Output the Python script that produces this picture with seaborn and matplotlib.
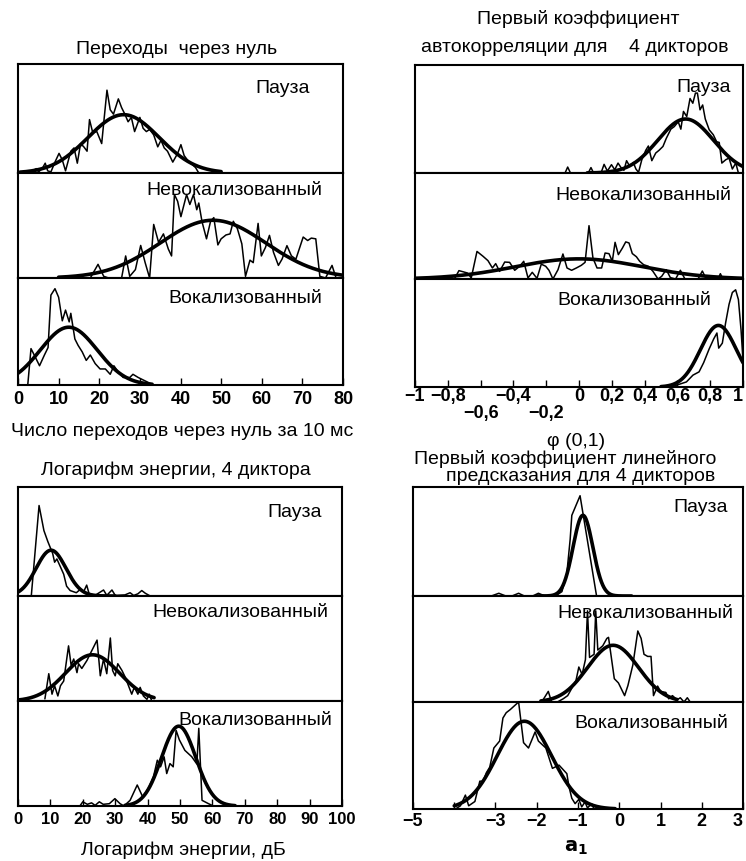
import numpy as np
import matplotlib
matplotlib.use("Agg")
import matplotlib.pyplot as plt
import seaborn as sns

# ---------------- data: histogram traces (relative height in each strip) ----------------
# Zero crossings per 10 ms
zc_pause_x = [0.8, 3.6, 4.5, 5.1, 6.1, 6.7, 7.3, 8.1, 9.1, 10.1, 10.9, 11.7, 13.0, 13.8, 14.6, 15.4,
              16.2, 17.0, 17.6, 18.4, 19.4, 20.6, 21.1, 21.9, 22.7, 23.5, 24.7, 25.5, 26.3, 27.1, 27.9,
              28.7, 30.0, 30.8, 31.6, 32.4, 33.4, 34.4, 35.2, 36.0, 36.8, 38.1, 39.3, 40.1, 40.9, 41.7,
              42.5, 43.7, 44.5]
zc_pause_y = [0.006, 0.02, 0.04, 0.01, 0.05, 0.09, 0.02, 0.01, 0.10, 0.18, 0.12, 0.02, 0.20, 0.23, 0.09,
              0.27, 0.24, 0.20, 0.49, 0.37, 0.38, 0.27, 0.46, 0.76, 0.58, 0.54, 0.68, 0.60, 0.54, 0.47,
              0.51, 0.38, 0.51, 0.41, 0.38, 0.40, 0.35, 0.24, 0.30, 0.23, 0.20, 0.10, 0.18, 0.26, 0.16,
              0.12, 0.09, 0.05, 0.0]
zc_unv_x = [17.8, 19.7, 21.1, 22.3, 25.5, 26.5, 27.5, 28.9, 30.2, 31.3, 32.4, 33.4, 34.6, 35.8, 37.0,
            37.8, 38.5, 39.3, 40.1, 41.5, 42.3, 43.2, 44.0, 44.5, 45.3, 46.4, 47.4, 48.2, 49.2, 50.0,
            51.2, 52.2, 53.0, 54.0, 55.1, 56.0, 57.1, 57.9, 59.1, 59.9, 60.9, 61.9, 62.9, 64.1, 65.0,
            66.2, 67.3, 68.4, 70.2, 71.3, 72.2, 73.3, 74.3, 75.7, 77.3, 78.3]
zc_unv_y = [0, 0.13, 0.016, 0, 0, 0.21, 0.016, 0.08, 0.31, 0.146, 0, 0.51, 0.34, 0.42, 0.276, 0.21,
            0.795, 0.73, 0.584, 0.795, 0.7, 0.795, 0.65, 0.714, 0.536, 0.373, 0.54, 0.575, 0.315,
            0.373, 0.41, 0.42, 0.54, 0.47, 0.325, 0.016, 0.17, 0.146, 0.52, 0.21, 0.29, 0.406, 0.244,
            0.12, 0.18, 0.308, 0.211, 0.179, 0.39, 0.357, 0.38, 0.373, 0.016, 0, 0.12, 0]
zc_voi_x = [2.4, 3.2, 4.0, 5.3, 6.5, 7.4, 8.1, 9.1, 10.0, 10.9, 11.7, 12.6, 13.0, 14.0, 14.8, 15.8,
            16.8, 17.8, 19.0, 20.2, 21.5, 22.7, 23.6, 24.7, 25.9, 27.5, 28.3, 29.6, 31.2, 32.8, 33.6]
zc_voi_y = [0, 0.34, 0.28, 0.18, 0.28, 0.35, 0.84, 0.90, 0.82, 0.60, 0.70, 0.59, 0.67, 0.43, 0.37,
            0.31, 0.23, 0.28, 0.20, 0.15, 0.15, 0.10, 0.18, 0.12, 0.07, 0.07, 0.10, 0.07, 0.04, 0.01, 0]

# First autocorrelation coefficient
ac_pause_x = [-0.085, -0.069, -0.052, 0.056, 0.073, 0.089, 0.137, 0.153, 0.173, 0.198, 0.218, 0.238,
              0.258, 0.274, 0.29, 0.31, 0.331, 0.347, 0.363, 0.383, 0.407, 0.423, 0.444, 0.468, 0.488,
              0.512, 0.532, 0.56, 0.581, 0.605, 0.621, 0.637, 0.657, 0.677, 0.694, 0.71, 0.722, 0.738,
              0.754, 0.77, 0.794, 0.819, 0.839, 0.855, 0.871, 0.895, 0.915, 0.935, 0.956, 0.972]
ac_pause_y = [0, 0.055, 0, 0, 0.05, 0, 0.012, 0.08, 0.018, 0.077, 0.03, 0.092, 0.046, 0.025, 0.114,
              0.06, 0.098, 0.037, 0.006, 0.123, 0.21, 0.25, 0.114, 0.185, 0.21, 0.246, 0.32, 0.406,
              0.43, 0.474, 0.406, 0.57, 0.523, 0.69, 0.646, 0.74, 0.74, 0.585, 0.63, 0.5, 0.4, 0.354,
              0.29, 0.283, 0.092, 0.123, 0.138, 0.037, 0.092, 0]
ac_unv_x = [-0.992, -0.76, -0.732, -0.681, -0.657, -0.622, -0.585, -0.555, -0.528, -0.508, -0.484,
            -0.453, -0.423, -0.392, -0.362, -0.337, -0.311, -0.285, -0.256, -0.23, -0.203, -0.183,
            -0.159, -0.128, -0.098, -0.073, -0.045, -0.016, 0.014, 0.037, 0.061, 0.085, 0.11, 0.138,
            0.159, 0.183, 0.203, 0.22, 0.24, 0.264, 0.285, 0.305, 0.325, 0.35, 0.37, 0.394, 0.423,
            0.451, 0.482, 0.504, 0.532, 0.557, 0.589, 0.618, 0.646, 0.726, 0.752, 0.776, 0.848,
            0.862, 0.878]
ac_unv_y = [0, 0, 0.079, 0.057, 0.01, 0.26, 0.214, 0.173, 0.104, 0.145, 0.072, 0.16, 0.157, 0.082,
            0.12, 0.167, 0.01, 0.063, 0.006, 0.14, 0.12, 0.082, 0, 0.088, 0.236, 0.104, 0.082, 0.104,
            0.129, 0.157, 0.503, 0.198, 0.104, 0.104, 0.245, 0.239, 0.167, 0.346, 0.23, 0.29, 0.35,
            0.34, 0.24, 0.21, 0.167, 0.135, 0.12, 0.072, 0, 0.025, 0.088, 0.013, 0, 0.082, 0, 0,
            0.075, 0, 0, 0.05, 0]
ac_voi_x = [0.52, 0.573, 0.655, 0.695, 0.732, 0.76, 0.793, 0.821, 0.841, 0.852, 0.874, 0.894, 0.915,
            0.935, 0.955, 0.972, 0.988, 1.0]
ac_voi_y = [0, 0.006, 0.047, 0.11, 0.14, 0.225, 0.35, 0.444, 0.5, 0.36, 0.406, 0.594, 0.766, 0.875,
            0.9, 0.81, 0.53, 0.25]

# Log energy, dB
en_pause_x = [4.1, 6.5, 8.0, 9.2, 10.7, 11.3, 12.0, 13.5, 14.1, 15.0, 16.1, 18.0, 19.2, 20.2, 21.2,
              22.0, 24.0, 26.4, 27.4, 29.0, 30.0, 33.0, 34.6, 35.7, 37.0, 38.2, 39.3, 40.8]
en_pause_y = [0, 0.83, 0.6, 0.5, 0.39, 0.31, 0.34, 0.24, 0.2, 0.09, 0.05, 0.03, 0.06, 0.035, 0.1,
              0.015, 0.01, 0.055, 0.006, 0.055, 0.006, 0.01, 0.03, 0.005, 0.02, 0.05, 0.025, 0]
en_unv_x = [8.3, 9.5, 10.5, 11.3, 12.3, 13.1, 14.1, 15.6, 16.4, 17.2, 18.2, 18.7, 19.7, 21.3, 22.3,
            24.4, 25.4, 26.4, 27.4, 28.5, 29.2, 30.0, 30.8, 32.1, 33.1, 35.1, 35.9, 37.0, 37.7, 38.7,
            39.8, 40.5, 41.3]
en_unv_y = [0.02, 0.26, 0.065, 0.145, 0.048, 0.145, 0.19, 0.525, 0.34, 0.4, 0.27, 0.355, 0.31, 0.387,
            0.45, 0.58, 0.24, 0.4, 0.26, 0.6, 0.29, 0.24, 0.355, 0.29, 0.226, 0.065, 0.13, 0.065,
            0.13, 0.048, 0.016, 0.065, 0]
en_voi_x = [19.1, 20.0, 21.4, 22.7, 23.8, 25.1, 26.3, 28.2, 29.9, 31.5, 32.7, 34.6, 36.8, 38.5, 40.2,
            41.8, 43.0, 44.0, 45.1, 45.9, 46.9, 47.9, 48.8, 49.8, 51.5, 53.6, 55.2, 55.8, 56.8, 58.8,
            60.3]
en_voi_y = [0, 0.04, 0.016, 0.03, 0.006, 0.04, 0.016, 0.022, 0.07, 0.022, 0, 0.054, 0.2, 0.086,
            0.166, 0.277, 0.436, 0.373, 0.468, 0.309, 0.404, 0.373, 0.72, 0.63, 0.53, 0.47, 0.40,
            0.74, 0.054, 0.022, 0]

# First LPC coefficient a1
lp_pause_x = [-3.1, -2.92, -2.75, -2.6, -2.44, -2.3, -2.1, -1.96, -1.8, -1.55, -1.39, -1.27, -1.19,
              -1.15, -0.95, -0.55]
lp_pause_y = [0, 0.025, 0, 0, 0.025, 0, 0, 0.025, 0, 0, 0.04, 0.21, 0.52, 0.74, 0.92, 0]
lp_unv_x = [-1.88, -1.72, -1.64, -1.5, -1.36, -1.25, -1.15, -1.05, -0.98, -0.9, -0.82, -0.77, -0.72,
            -0.61, -0.57, -0.52, -0.4, -0.3, -0.26, -0.12, -0.02, 0.13, 0.21, 0.33, 0.45, 0.53, 0.6,
            0.69, 0.77, 0.83, 0.93, 1.0, 1.13, 1.2, 1.29, 1.4, 1.48, 1.57, 1.65, 1.72]
lp_unv_y = [0, 0.1, 0, 0, 0.03, 0.06, 0.13, 0.2, 0.33, 0.26, 0.4, 0.86, 0.42, 0.45, 0.86, 0.49, 0.53,
            0.6, 0.61, 0.22, 0.18, 0.06, 0.155, 0.35, 0.67, 0.6, 0.45, 0.43, 0.43, 0.06, 0.15, 0.1,
            0.09, 0.03, 0.06, 0.02, 0.04, 0, 0.04, 0]
lp_voi_x = [-3.97, -3.85, -3.73, -3.65, -3.5, -3.38, -3.3, -3.22, -3.14, -3.04, -2.9, -2.82, -2.74,
            -2.64, -2.44, -2.32, -2.2, -2.04, -1.96, -1.78, -1.62, -1.46, -1.27, -1.22, -1.15, -1.07,
            -0.98, -0.91, -0.83, -0.77, -0.67, -0.61, -0.43, -0.3]
lp_voi_y = [0, 0.03, 0.13, 0.03, 0.07, 0.26, 0.26, 0.34, 0.39, 0.57, 0.635, 0.85, 0.9, 0.93, 1.0,
            0.62, 0.57, 0.72, 0.635, 0.57, 0.38, 0.41, 0.33, 0.21, 0.1, 0.05, 0.09, 0.02, 0.065,
            0.01, 0.05, 0, 0.015, 0]

# Normal fits: (peak height, mean, standard deviation) and drawn range
zc_fits = [(0.535, 26.0, 8.8), (0.55, 48.0, 13.0), (0.54, 12.5, 7.0)]
zc_spans = [(0.5, 50), (10, 80), (0, 33)]
ac_fits = [(0.50, 0.65, 0.17), (0.19, 0.0, 0.39), (0.57, 0.85, 0.11)]
ac_spans = [(0.05, 1.0), (-1.0, 1.0), (0.5, 1.0)]
en_fits = [(0.42, 10.2, 4.6), (0.44, 23.0, 8.3), (0.76, 49.6, 5.3)]
en_spans = [(0, 30), (0, 42), (33, 67)]
lp_fits = [(0.74, -0.88, 0.24), (0.535, -0.15, 0.62), (0.82, -2.3, 0.66)]
lp_spans = [(-2.0, 0.3), (-1.9, 1.4), (-4.0, -0.1)]

row_names = ["Пауза", "Невокализованный", "Вокализованный"]

zc_ticks = [0, 10, 20, 30, 40, 50, 60, 70, 80]
zc_labels = ["0", "10", "20", "30", "40", "50", "60", "70", "80"]
ac_ticks = [-1.0, -0.8, -0.6, -0.4, -0.2, 0.0, 0.2, 0.4, 0.6, 0.8, 1.0]
ac_labels = ["−1", "−0,8", "\n−0,6", "−0,4", "\n−0,2", "0", "0,2", "0,4", "0,6", "0,8", "1"]
en_ticks = [0, 10, 20, 30, 40, 50, 60, 70, 80, 90, 100]
en_labels = ["0", "10", "20", "30", "40", "50", "60", "70", "80", "90", "100"]
lp_ticks = [-5, -4, -3, -2, -1, 0, 1, 2, 3]
lp_labels = ["−5", "", "−3", "−2", "−1", "0", "1", "2", "3"]

# ---------------- figure ----------------
sns.set_theme(style="white")
plt.rcParams["font.family"] = ["Liberation Sans", "DejaVu Sans"]
plt.rcParams["mathtext.fontset"] = "dejavusans"
plt.rcParams["text.color"] = "black"
plt.rcParams["xtick.color"] = "black"
plt.rcParams["xtick.labelcolor"] = "black"

W, H = 746, 861
fig = plt.figure(figsize=(W / 100, H / 100), dpi=100)
fig.patch.set_facecolor("white")

THIN, THICK, FRAME = 1.1, 2.6, 1.5
TXT = 14.0


def fx(x):
    return x / W


def fy(y):
    return 1 - y / H


def panel(xr, rows, xlim, traces, fits, spans, ticks, labels, pad, tick_fs, edge_label,
          name_pos):
    axes = []
    for i in range(3):
        y0, y1 = rows[i], rows[i + 1]
        ax = fig.add_axes([fx(xr[0]), fy(y1), (xr[1] - xr[0]) / W, (y1 - y0) / H])
        hx, hy = traces[i]
        sns.lineplot(x=np.asarray(hx), y=np.asarray(hy), ax=ax, color="black", lw=THIN,
                     sort=False, estimator=None)
        peak, mu, sd = fits[i]
        xs = np.linspace(spans[i][0], spans[i][1], 400)
        sns.lineplot(x=xs, y=peak * np.exp(-0.5 * ((xs - mu) / sd) ** 2), ax=ax, color="black",
                     lw=THICK, sort=False, estimator=None)
        ax.set_xlim(*xlim)
        ax.set_ylim(0, 1)
        ax.set_yticks([])
        ax.set_xlabel("")
        ax.set_ylabel("")
        for s in ax.spines.values():
            s.set_visible(True)
            s.set_color("black")
            s.set_linewidth(FRAME)
        if i < 2:
            ax.set_xticks([])
        else:
            ax.set_xticks(ticks)
            ax.set_xticklabels(labels)
            ax.tick_params(axis="x", direction="in", length=5, width=1.0, bottom=True,
                           labelsize=tick_fs, pad=pad, colors="black")
            tl = ax.get_xticklabels()
            for t in tl:
                t.set_fontweight("bold")
                t.set_linespacing(1.0)
            if edge_label:
                # the last label sits against the right edge of the page
                tl[-1].set_horizontalalignment("right")
        nx, ny = name_pos[i]
        fig.text(fx(nx), fy(ny), row_names[i], ha="right", va="baseline", fontsize=TXT)
        axes.append(ax)
    return axes


panel((18, 343), (64, 173, 278, 385), (0, 80),
      [(zc_pause_x, zc_pause_y), (zc_unv_x, zc_unv_y), (zc_voi_x, zc_voi_y)],
      zc_fits, zc_spans, zc_ticks, zc_labels, 4.0, 13.0, False,
      [(310, 93), (322, 195), (322, 303)])

panel((415, 743), (65, 173, 279, 387), (-1, 1),
      [(ac_pause_x, ac_pause_y), (ac_unv_x, ac_unv_y), (ac_voi_x, ac_voi_y)],
      ac_fits, ac_spans, ac_ticks, ac_labels, 0.5, 13.0, True,
      [(731, 92), (731, 200), (711, 305)])

panel((18, 342), (487, 596, 701, 806), (0, 100),
      [(en_pause_x, en_pause_y), (en_unv_x, en_unv_y), (en_voi_x, en_voi_y)],
      en_fits, en_spans, en_ticks, en_labels, 4.5, 12.0, False,
      [(322, 517), (328, 617), (332, 725)])

panel((413, 743), (487, 596, 702, 809), (-5, 3),
      [(lp_pause_x, lp_pause_y), (lp_unv_x, lp_unv_y), (lp_voi_x, lp_voi_y)],
      lp_fits, lp_spans, lp_ticks, lp_labels, 3.0, 13.0, True,
      [(728, 512), (733, 618), (728, 728)])

# titles and axis captions
fig.text(fx(177), fy(54), "Переходы  через нуль", ha="center", va="baseline", fontsize=TXT)
fig.text(fx(578), fy(24), "Первый коэффициент", ha="center", va="baseline", fontsize=TXT)
fig.text(fx(575), fy(52), "автокорреляции для    4 дикторов", ha="center", va="baseline",
         fontsize=TXT)
fig.text(fx(182), fy(436), "Число переходов через нуль за 10 мс", ha="center", va="baseline",
         fontsize=TXT)
fig.text(fx(576), fy(446), "φ (0,1)", ha="center", va="baseline", fontsize=TXT)
fig.text(fx(176), fy(475), "Логарифм энергии, 4 диктора", ha="center", va="baseline",
         fontsize=TXT)
fig.text(fx(565), fy(464), "Первый коэффициент линейного", ha="center", va="baseline",
         fontsize=TXT)
fig.text(fx(581), fy(481), "предсказания для 4 дикторов", ha="center", va="baseline",
         fontsize=TXT)
fig.text(fx(183), fy(855), "Логарифм энергии, дБ", ha="center", va="baseline", fontsize=TXT)
fig.text(fx(576), fy(852), r"$\mathbf{a_1}$", ha="center", va="baseline", fontsize=TXT)

fig.savefig("out.png", dpi=100, facecolor="white")
